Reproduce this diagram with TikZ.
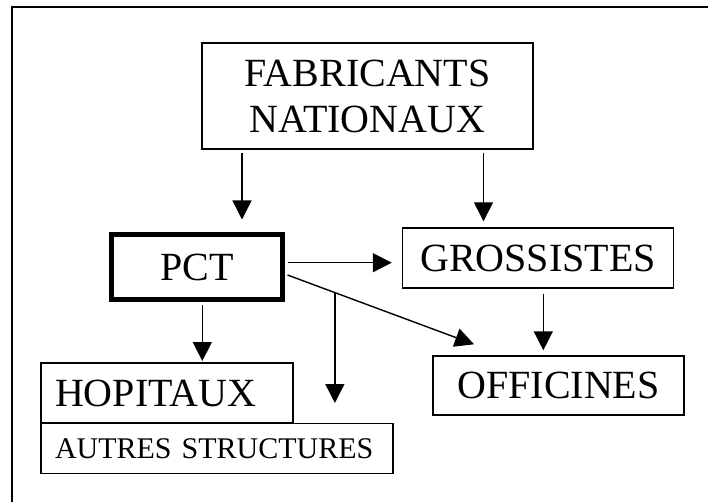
\documentclass[tikz,border=0pt]{standalone}
\usepackage{fontspec}
\setmainfont{Liberation Serif}
\usetikzlibrary{arrows.meta}

\begin{document}
\begin{tikzpicture}
        [x=1pt,y=-1pt,line width=1.4pt,>={Triangle[length=19pt,width=19pt]},
         every node/.style={draw,inner sep=0pt,font=\fontsize{40}{46}\selectfont},
         leftbox/.style={inner xsep=14pt,align=left}]
        \useasboundingbox (0,0) rectangle (708,502);
        \draw [line width=2pt] (11.5,502) -- (11.5,7) -- (708,7);

        \node (fab) at (367.5,96) [minimum width=331pt,minimum height=106pt,align=center] {FABRICANTS\\NATIONAUX};
        \node (pct) at (197,267) [minimum width=171pt,minimum height=64pt,line width=5pt] {PCT};
        \node (gros) at (538,258) [minimum width=271pt,minimum height=60pt] {GROSSISTES};
        \node (offi) at (558.5,385.5) [minimum width=251pt,minimum height=59pt] {OFFICINES};
        \node (hop) at (167,393) [leftbox,text width=224pt,minimum height=60pt] {HOPITAUX};
        \node (autres) at (217,448.5) [leftbox,text width=324pt,minimum height=50pt,font=\fontsize{30}{36}\selectfont] {AUTRES STRUCTURES};

        \path [->] ([xshift=-125.5pt,yshift=-3pt]fab.south) edge ([xshift=45pt,yshift=13pt]pct.north);
        \path [->] ([xshift=116pt,yshift=-3pt]fab.south) edge ([xshift=-54.5pt,yshift=6pt]gros.north);
        \path [->] ([xshift=2.5pt,yshift=4.3pt]pct.east) edge ([xshift=-10pt,yshift=-4.7pt]gros.west);
        \path [->] ([xshift=2.5pt,yshift=-8pt]pct.east) edge coordinate[pos=0.254] (split) ([xshift=-84.5pt,yshift=11pt]offi.north);
        \path [->] ([xshift=5.3pt,yshift=-3.7pt]pct.south) edge ([xshift=35.3pt,yshift=1.3pt]hop.north);
        \path [->] ([xshift=5.3pt,yshift=-5.3pt]gros.south) edge ([xshift=-15.2pt,yshift=5pt]offi.north);

        \coordinate (freeend) at (333,403);
        \path [->] (split) edge (split |- freeend);

    \end{tikzpicture}
\end{document}
